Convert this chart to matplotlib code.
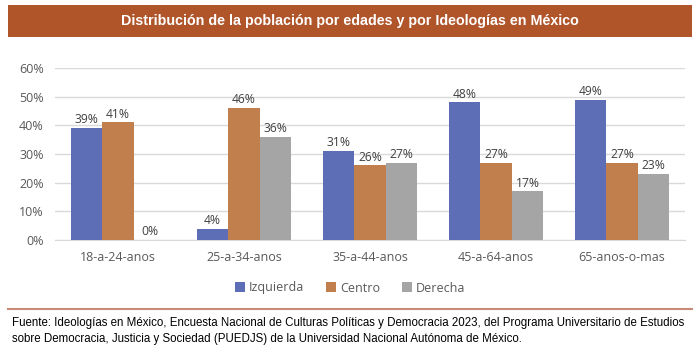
import numpy as np
import matplotlib.pyplot as plt
from matplotlib.patches import Rectangle
from matplotlib.lines import Line2D

# data
grupos = ['18-a-24-anos', '25-a-34-anos', '35-a-44-anos', '45-a-64-anos', '65-anos-o-mas']
izquierda = [39, 4, 31, 48, 49]
centro = [41, 46, 26, 27, 27]
derecha = [0, 36, 27, 17, 23]
series = ['Izquierda', 'Centro', 'Derecha']
colores = ['#5E6EB6', '#C27F4E', '#A5A5A5']

titulo = 'Distribución de la población por edades y por Ideologías en México'
fuente = ('Fuente: Ideologías en México, Encuesta Nacional de Culturas Políticas y Democracia 2023, '
          'del Programa Universitario de Estudios\nsobre Democracia, Justicia y Sociedad (PUEDJS) '
          'de la Universidad Nacional Autónoma de México.')

narrow = ['Liberation Sans Narrow', 'Liberation Sans', 'DejaVu Sans']
plt.rcParams['font.family'] = ['Open Sans', 'DejaVu Sans']

fig = plt.figure(figsize=(7, 3.52), dpi=100)

# title bar
fig.patches.append(Rectangle((8 / 700, 1 - 37 / 352), 684 / 700, 32 / 352,
                             transform=fig.transFigure, facecolor='#B0542A',
                             edgecolor='none'))
fig.text(0.5, 1 - 21 / 352, titulo, ha='center', va='center', color='white',
         fontsize=10.3, fontweight='bold', family=narrow)

ax = fig.add_axes([55 / 700, 112 / 352, 630 / 700, 172 / 352])
x = np.arange(len(grupos))
w = 0.25
for i, (vals, name, c) in enumerate(zip([izquierda, centro, derecha], series, colores)):
    bars = ax.bar(x + (i - 1) * w, vals, w, color=c, label=name, zorder=3)
    for b, v in zip(bars, vals):
        ax.text(b.get_x() + b.get_width() / 2, v + 0.6, f'{v}%', ha='center',
                va='bottom', fontsize=8.7, color='#404040')

ax.set_ylim(0, 60)
ax.set_xlim(-0.5, len(grupos) - 0.5)
ax.set_yticks(range(0, 61, 10))
ax.set_yticklabels([f'{t}%' for t in range(0, 61, 10)])
ax.set_xticks(x)
ax.set_xticklabels(grupos)
ax.tick_params(axis='both', length=0, labelsize=9, labelcolor='#595959')
ax.tick_params(axis='x', pad=8)
ax.tick_params(axis='y', pad=8)
ax.grid(axis='y', color='#D9D9D9', linewidth=1, zorder=0)
for s in ['top', 'right', 'left']:
    ax.spines[s].set_visible(False)
ax.spines['bottom'].set_color('#D9D9D9')

fig.legend(loc='center', bbox_to_anchor=(0.5, 1 - 288 / 352), ncol=3, frameon=False,
           fontsize=9, handlelength=0.8, handleheight=0.8, handletextpad=0.3,
           columnspacing=1.8, labelcolor='#595959')

# separator and source
fig.add_artist(Line2D([8 / 700, 692 / 700], [1 - 309 / 352] * 2, transform=fig.transFigure,
                      color='#C98A78', linewidth=1.5))
fig.text(12 / 700, 1 - 331 / 352, fuente, ha='left', va='center', fontsize=8.3,
         color='black', family=narrow, linespacing=1.5)

fig.savefig('out.png', dpi=100)
